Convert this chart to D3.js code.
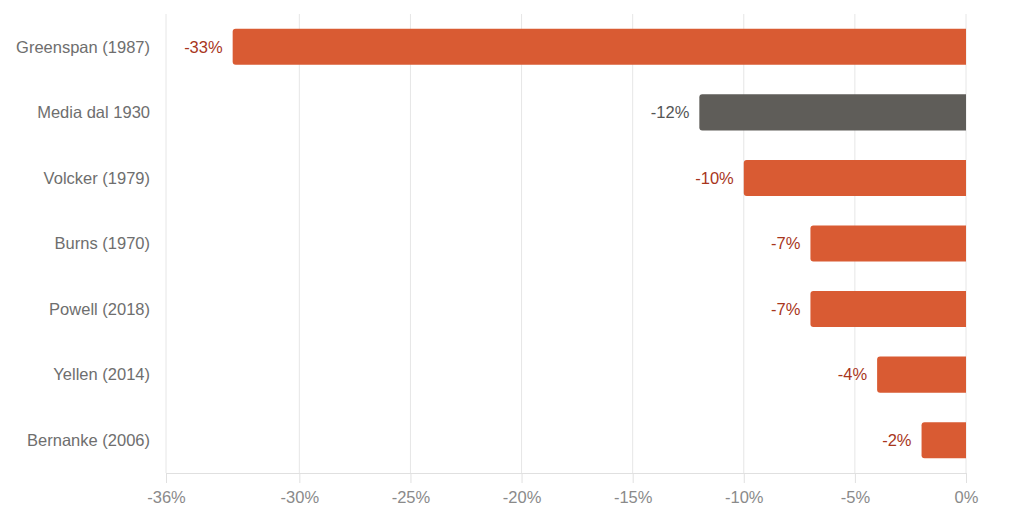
<!DOCTYPE html>
<html>
<head>
<meta charset="utf-8">
<script src="https://cdn.jsdelivr.net/npm/d3@7"></script>
<style>
body { margin: 0; background: #fff; }
svg { display: block; font-family: "Liberation Sans", Arial, sans-serif; }
</style>
</head>
<body>
<div class="graph"></div>
<script>
// Data
var names = ["Greenspan (1987)", "Media dal 1930", "Volcker (1979)", "Burns (1970)", "Powell (2018)", "Yellen (2014)", "Bernanke (2006)"];
var values = [-33, -12, -10, -7, -7, -4, -2];
var highlight = ["Media dal 1930"];
var ticks = [-36, -30, -25, -20, -15, -10, -5, 0];

// Config
var width = 1024;
var height = 512;
var padding = { left: 166, right: 58, top: 14, bottom: 39 };

var svg = d3.select(".graph").append("svg")
    .attr("width", width)
    .attr("height", height);

var x = d3.scaleLinear()
    .domain([-36, 0])
    .range([padding.left, width - padding.right]);

var y = d3.scaleBand()
    .domain(names)
    .range([padding.top, height - padding.bottom])
    .paddingInner(0.45)
    .paddingOuter(0.225);

// Grid lines
svg.append("g")
    .selectAll("line")
    .data(ticks)
    .enter().append("line")
    .attr("x1", function (d) { return x(d); })
    .attr("x2", function (d) { return x(d); })
    .attr("y1", padding.top)
    .attr("y2", height - padding.bottom)
    .attr("stroke", "#e6e6e6")
    .attr("stroke-width", 1);

// X axis
var xAxis = svg.append("g")
    .attr("transform", "translate(0," + (height - padding.bottom) + ")")
    .call(d3.axisBottom(x).tickValues(ticks).tickSize(10).tickPadding(8)
        .tickFormat(function (d) { return d + "%"; }));
xAxis.select(".domain").attr("stroke", "#e0e0e0");
xAxis.selectAll(".tick line").attr("stroke", "#e0e0e0");
xAxis.selectAll(".tick text")
    .attr("fill", "#8a8a8a")
    .style("font-size", "16.5px");

// Bars (rounded on the left end only)
function barPath(d, i) {
    var x0 = x(values[i]), x1 = x(0);
    var y0 = y(d), h = y.bandwidth(), r = 3;
    return "M" + x1 + "," + y0 +
        "H" + (x0 + r) +
        "Q" + x0 + "," + y0 + " " + x0 + "," + (y0 + r) +
        "V" + (y0 + h - r) +
        "Q" + x0 + "," + (y0 + h) + " " + (x0 + r) + "," + (y0 + h) +
        "H" + x1 + "Z";
}

svg.append("g")
    .selectAll("path")
    .data(names)
    .enter().append("path")
    .attr("d", barPath)
    .attr("fill", function (d) { return highlight.indexOf(d) >= 0 ? "#5f5d59" : "#d95b33"; });

// Value labels
svg.append("g")
    .selectAll("text")
    .data(names)
    .enter().append("text")
    .attr("x", function (d, i) { return x(values[i]) - 10; })
    .attr("y", function (d) { return y(d) + y.bandwidth() / 2; })
    .attr("dy", "0.35em")
    .attr("text-anchor", "end")
    .attr("fill", function (d) { return highlight.indexOf(d) >= 0 ? "#555555" : "#a8361c"; })
    .style("font-size", "16.5px")
    .text(function (d, i) { return values[i] + "%"; });

// Category labels
svg.append("g")
    .selectAll("text")
    .data(names)
    .enter().append("text")
    .attr("x", padding.left - 16)
    .attr("y", function (d) { return y(d) + y.bandwidth() / 2; })
    .attr("dy", "0.35em")
    .attr("text-anchor", "end")
    .attr("fill", "#6e6e6e")
    .style("font-size", "16.5px")
    .text(function (d) { return d; });
</script>
</body>
</html>
